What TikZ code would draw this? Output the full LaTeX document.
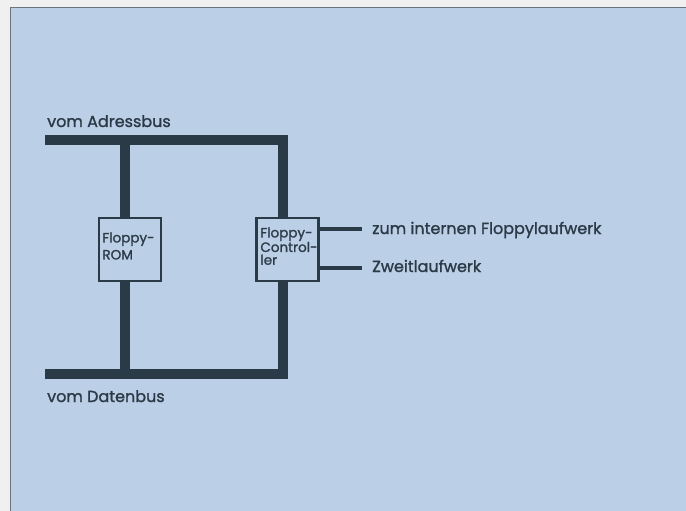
\documentclass[tikz,border=0pt]{standalone}
\usepackage{fontspec}
\setmainfont{Poppins}[BoldFont=Poppins,BoldFeatures={FakeBold=1.3}]
\usetikzlibrary{positioning}
\definecolor{panel}{HTML}{BBCFE6}
\definecolor{ink}{HTML}{2B3A47}
\tikzset{
  bus/.style={line width=10pt,draw=ink,line join=miter},
  wire/.style={line width=4.5pt,draw=ink},
  chip/.style={draw=ink,line width=2.5pt,minimum width=62pt,minimum height=63pt,inner sep=0pt},
  chiptext/.style={text=ink,align=left,inner sep=0pt,anchor=north west},
  lbl/.style={font=\fontsize{16}{18}\selectfont\bfseries,text=ink,anchor=base west,inner sep=0pt}
}
\begin{document}
\begin{tikzpicture}[x=1pt,y=-1pt]
\useasboundingbox (0,0) rectangle (686,511);
% Hintergrund
\fill[white!94!black] (0,0) rectangle (686,511);
\fill[panel] (10,8) rectangle (686,511);
\draw[ink!70,line width=1pt] (10,511) -- (10,8) -- (686,8);
% Bausteine
\node[chip] (rom) at (130,249.5) {};
\node[chip] (fdc) at (287.5,249.5) {};
\node[chiptext,font=\fontsize{13.5}{17}\selectfont\bfseries] (romt)
  at ([shift={(4.5pt,-15.5pt)}]rom.north west) {Floppy-\\ROM};
\node[chiptext,font=\fontsize{13.5}{12.8}\selectfont\bfseries] (fdct)
  at ([shift={(5pt,-10.5pt)}]fdc.north west) {Floppy-\\Control-\\ler};
% Busse
\coordinate (ab) at (45,140);
\coordinate (db) at (45,374);
\draw[bus] (ab) -| ([xshift=-4.5pt]fdc.north);
\draw[bus] (db) -| ([xshift=-4.5pt]fdc.south);
\draw[bus] (ab -| 125,0) -- ([xshift=-5pt]rom.north);
\draw[bus] ([xshift=-5pt]rom.south) -- (db -| 125,0);
\node[lbl] (adr) at (47,127) {vom Adressbus};
\node[lbl] (dat) at (47,402) {vom Datenbus};
% Laufwerke
\coordinate (int) at (362,229);
\coordinate (ext) at (362,268);
\draw[wire] (fdc.east |- int) -- (int);
\draw[wire] (fdc.east |- ext) -- (ext);
\node[lbl] (intl) at (372,234) {zum internen Floppylaufwerk};
\node[lbl] (extl) at (372,272) {Zweitlaufwerk};
\end{tikzpicture}
\end{document}
